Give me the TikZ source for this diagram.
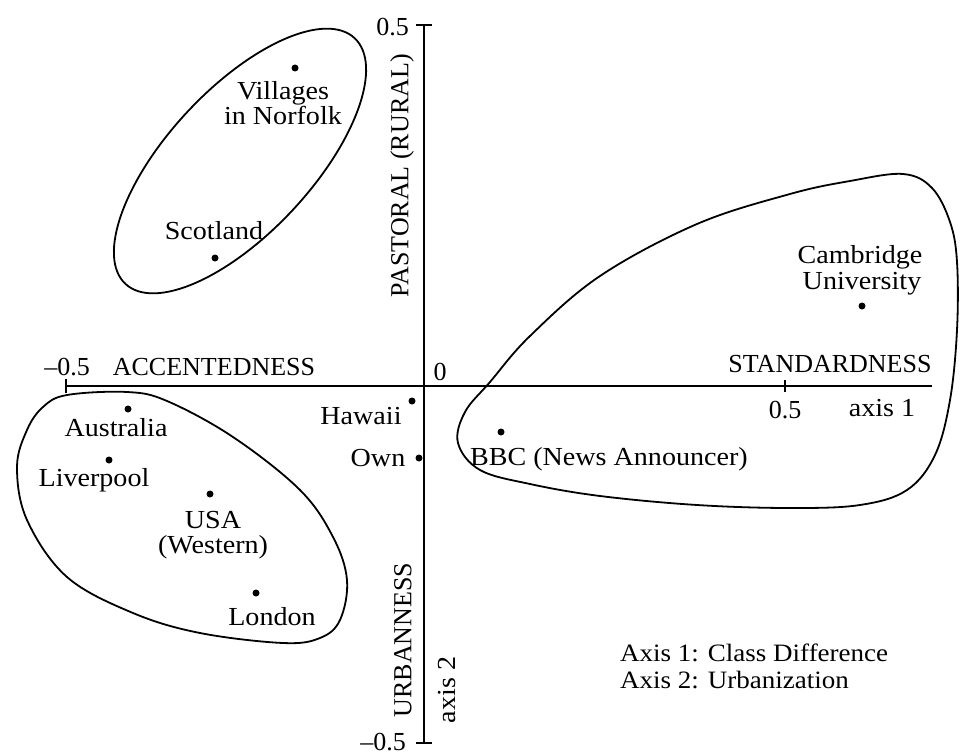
\documentclass[tikz,border=0pt]{standalone}
\usepackage{fontspec}
\setmainfont{Liberation Serif}
\newfontfamily\widefont[FakeStretch=1.08]{Liberation Serif}
\begin{document}
\begin{tikzpicture}[x=1pt,y=-1pt,
  lbl/.style={font=\fontsize{26}{26}\selectfont, inner sep=0pt, anchor=base},
  wlbl/.style={font=\widefont\fontsize{26}{26}\selectfont, inner sep=0pt, anchor=base},
  rlbl/.style={font=\fontsize{26}{26}\selectfont, inner sep=0pt, rotate=90, anchor=center},
  leglbl/.style={font=\widefont\fontsize{25}{25}\selectfont, inner sep=0pt, anchor=base west},
  pt/.style={circle, fill=black, inner sep=0pt, minimum size=7pt},
  axisline/.style={line width=1.4pt},
  blob/.style={line width=1.8pt}]
\useasboundingbox (0,0) rectangle (960,754);

% axes
\coordinate (xl) at (66,386);
\coordinate (xr) at (932,386);
\coordinate (yt) at (424,25);
\coordinate (yb) at (424,743);
\coordinate (xhalf) at (785,386);
\draw[axisline] (xl) -- (xr);
\draw[axisline] (yt) -- (yb);
\draw[axisline] ([yshift=-7pt]xl) -- ([yshift=7pt]xl);
\draw[axisline] ([yshift=-6pt]xhalf) -- ([yshift=6pt]xhalf);
\draw[axisline] ([xshift=-8pt]yt) -- ([xshift=8pt]yt);
\draw[axisline] ([xshift=-8pt]yb) -- ([xshift=8pt]yb);

% axis labels
\node[lbl] (mhalf) at (67,375) {–0.5};
\node[lbl] (acc) at (214,375) {ACCENTEDNESS};
\node[lbl] (zero) at (440,380) {0};
\node[lbl] (std) at (830,372) {STANDARDNESS};
\node[lbl] (phalf) at (785,418) {0.5};
\node[wlbl] (ax1) at (882,416) {axis 1};
\node[lbl, anchor=base east] (thalf) at (409,36) {0.5};
\node[lbl, anchor=base east] (bhalf) at (406,750) {–0.5};
\node[rlbl] (past) at (402,176) {PASTORAL (RURAL)};
\node[rlbl] (urb) at (403,640) {URBANNESS};
\node[rlbl, font=\widefont\fontsize{26}{26}\selectfont] (ax2) at (447,690) {axis 2};

% groups
\draw[blob, rotate around={47:(240,161)}] (240,161) ellipse [x radius=168, y radius=72];
\draw[blob] plot[smooth cycle, tension=0.6] coordinates {
  (903,174) (932,188) (950,222) (957,262) (957,330) (950,400) (935,455)
  (907,490) (860,505) (790,508) (697,505) (600,496) (530,484) (480,470)
  (458,443) (465,412) (490,382) (530,336) (600,276) (697,224) (790,194) (850,181)};
\draw[blob] plot[smooth cycle, tension=0.6] coordinates {
  (67,395) (127,392) (167,401) (233,437) (300,490) (333,537) (347,580)
  (340,620) (320,638) (283,643) (200,633) (133,613) (67,577) (27,520)
  (17,467) (27,430) (43,407)};

% points
\node[pt] (villdot) at (295,68) {};
\node[wlbl] (vill1) at (283,100) {Villages};
\node[wlbl] (vill2) at (283,125) {in Norfolk};
\node[pt] (scotdot) at (215,258) {};
\node[wlbl] (scot) at (214,239) {Scotland};
\node[pt] (camdot) at (862,306) {};
\node[wlbl] (cam1) at (860,263) {Cambridge};
\node[wlbl] (cam2) at (862,289) {University};
\node[pt] (hawdot) at (412,401) {};
\node[wlbl] (haw) at (361,424) {Hawaii};
\node[pt] (owndot) at (419,458) {};
\node[wlbl] (own) at (378,466) {Own};
\node[pt] (bbcdot) at (501,432) {};
\node[wlbl] (bbc) at (609,465) {BBC (News Announcer)};
\node[pt] (ausdot) at (128,409) {};
\node[wlbl] (aus) at (116,436) {Australia};
\node[pt] (livdot) at (109,460) {};
\node[wlbl] (liv) at (94,486) {Liverpool};
\node[pt] (usadot) at (210,494) {};
\node[wlbl] (usa1) at (213,528) {USA};
\node[wlbl] (usa2) at (213,553) {(Western)};
\node[pt] (londot) at (256,593) {};
\node[wlbl] (lon) at (272,625) {London};

% legend
\node[leglbl] (leg1) at (620,661) {Axis 1: Class Difference};
\node[leglbl] (leg2) at (620,688) {Axis 2: Urbanization};
\end{tikzpicture}
\end{document}
